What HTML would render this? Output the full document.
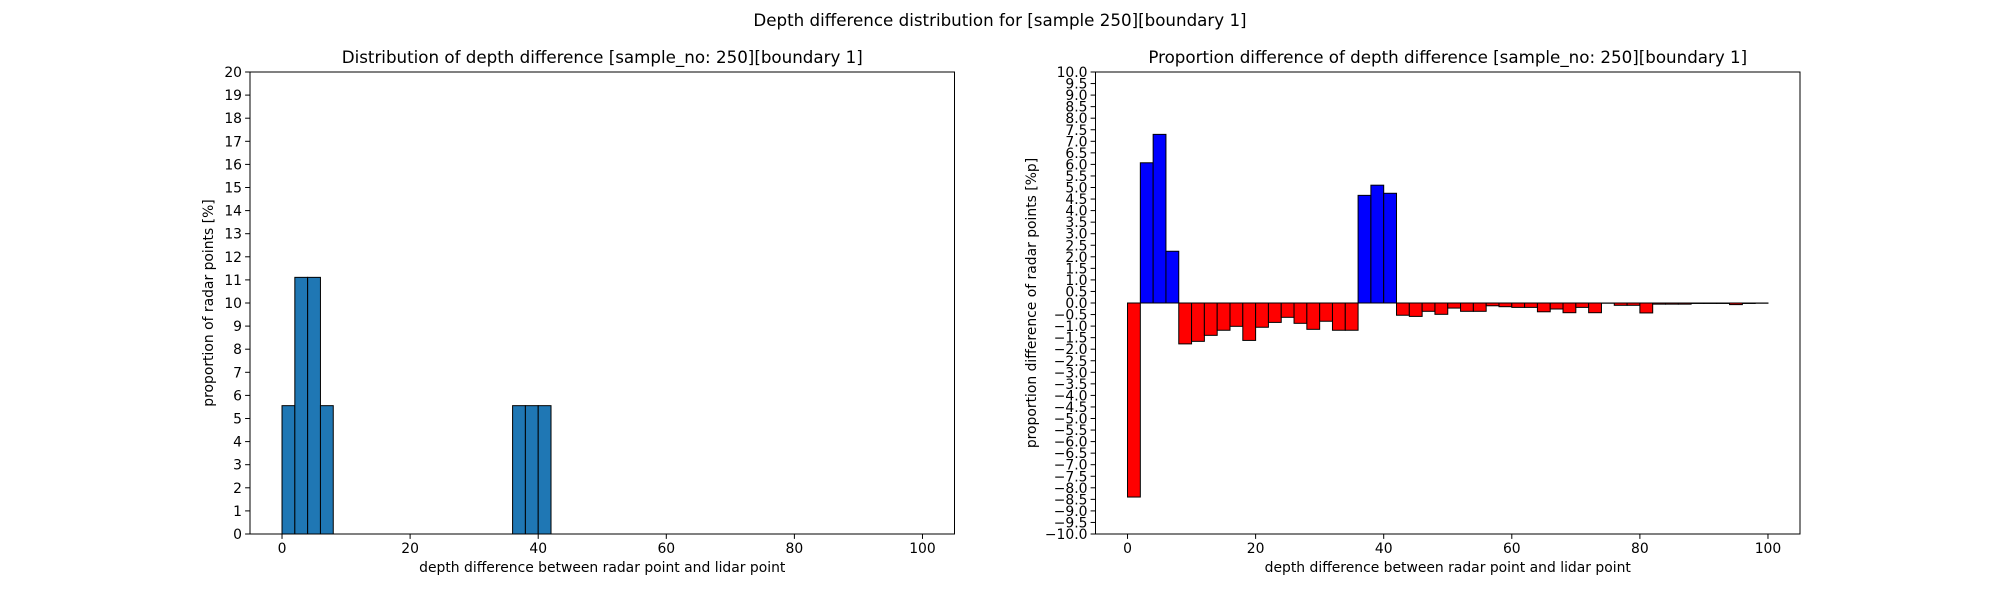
<!DOCTYPE html>
<html><head><meta charset="utf-8"><style>
body{margin:0;background:#fff}
svg{display:block;font-family:"DejaVu Sans","Liberation Sans",sans-serif}
</style></head><body>
<svg id="fig" width="2000" height="600">
<text x="1000" y="26" font-size="16.7" text-anchor="middle">Depth difference distribution for [sample 250][boundary 1]</text>
</svg>
<script>
const leftBins = [0,2,4,6,8,10,12,14,16,18,20,22,24,26,28,30,32,34,36,38,40,42,44,46,48,50,52,54,56,58,60,62,64,66,68,70,72,74,76,78,80,82,84,86,88,90,92,94,96,98];
const leftValues = [5.556,11.11,11.11,5.556,0,0,0,0,0,0,0,0,0,0,0,0,0,0,5.556,5.556,5.556,0,0,0,0,0,0,0,0,0,0,0,0,0,0,0,0,0,0,0,0,0,0,0,0,0,0,0,0,0];
const diffValues = [-8.40,6.07,7.30,2.24,-1.77,-1.66,-1.40,-1.18,-1.01,-1.62,-1.05,-0.84,-0.62,-0.88,-1.14,-0.79,-1.18,-1.18,4.66,5.10,4.75,-0.53,-0.58,-0.36,-0.49,-0.22,-0.36,-0.36,-0.12,-0.16,-0.19,-0.19,-0.38,-0.26,-0.42,-0.19,-0.42,-0.01,-0.10,-0.10,-0.43,-0.05,-0.05,-0.05,-0.02,-0.02,-0.02,-0.07,-0.02,-0.01];
const xTicks = [0,20,40,60,80,100];
const leftYTicks = [0,1,2,3,4,5,6,7,8,9,10,11,12,13,14,15,16,17,18,19,20];
const rightYTicks = [-10,-9.5,-9,-8.5,-8,-7.5,-7,-6.5,-6,-5.5,-5,-4.5,-4,-3.5,-3,-2.5,-2,-1.5,-1,-0.5,0,0.5,1,1.5,2,2.5,3,3.5,4,4.5,5,5.5,6,6.5,7,7.5,8,8.5,9,9.5,10];
const binWidth = 2;

const NS='http://www.w3.org/2000/svg';
const svg=document.getElementById('fig');
function el(tag,attrs,parent){const e=document.createElementNS(NS,tag);for(const k in attrs)e.setAttribute(k,attrs[k]);(parent||svg).appendChild(e);return e;}

function drawAxes(cfg){
  const {x0,x1,y0,y1,ymin,ymax,name}=cfg;
  const g=el('g',{});
  
  
  const xs=v=>x0+(v+5)/110*(x1-x0);
  const ys=v=>y1-(v-ymin)/(ymax-ymin)*(y1-y0);
  // bars
  for(let i=0;i<cfg.values.length;i++){
    const v=cfg.values[i];
    if(v===0 && !cfg.drawZero) continue;
    const a=xs(leftBins[i]), b=xs(leftBins[i]+binWidth);
    const top=ys(Math.max(v,0)), bot=ys(Math.min(v,0));
    const r=el('rect',{x:a,y:top,width:b-a,height:Math.max(bot-top,0.01),fill:cfg.color(v),stroke:'#000','stroke-width':1},g);
    
    
  }
  // spines
  const f=el('rect',{x:x0,y:y0,width:x1-x0,height:y1-y0,fill:'none',stroke:'#000','stroke-width':1},g);
  
  
  // x ticks
  xTicks.forEach(t=>{
    const x=xs(t);
    el('line',{x1:x,x2:x,y1:y1,y2:y1+4.9,stroke:'#000','stroke-width':1},g);
    const tx=el('text',{x:x,y:y1+19,'font-size':13.9,'text-anchor':'middle'},g);
    tx.textContent=t;
    
    
  });
  cfg.yTicks.forEach(t=>{
    const y=ys(t);
    el('line',{x1:x0-4.9,x2:x0,y1:y,y2:y,stroke:'#000','stroke-width':1},g);
    const tx=el('text',{x:x0-8,y:y+5,'font-size':13.9,'text-anchor':'end'},g);
    tx.textContent=cfg.fmt(t);
    
    
  });
  const ti=el('text',{x:(x0+x1)/2,y:y0-9,'font-size':16.7,'text-anchor':'middle'},g);
  ti.textContent=cfg.title;
  
  
  const xl=el('text',{x:(x0+x1)/2,y:y1+38,'font-size':13.9,'text-anchor':'middle'},g);
  xl.textContent='depth difference between radar point and lidar point';
  
  
  const yx=cfg.ylabelX, yc=(y0+y1)/2;
  const yl=el('text',{x:yx,y:yc,'font-size':13.9,'text-anchor':'middle',transform:`rotate(-90 ${yx} ${yc})`},g);
  yl.textContent=cfg.ylabel;
  
  
}
drawAxes({name:'left-chart',x0:250,x1:954.5,y0:72,y1:534,ymin:0,ymax:20,values:leftValues,yTicks:leftYTicks,
  color:()=>'#1f77b4',fmt:t=>String(t),title:'Distribution of depth difference [sample_no: 250][boundary 1]',
  ylabel:'proportion of radar points [%]',ylabelX:213});
drawAxes({name:'right-chart',x0:1095.5,x1:1800,y0:72,y1:534,ymin:-10,ymax:10,values:diffValues,yTicks:rightYTicks,drawZero:true,
  color:v=>v>=0?'#0000ff':'#ff0000',fmt:t=>(t<0?'\u2212':'')+Math.abs(t).toFixed(1),title:'Proportion difference of depth difference [sample_no: 250][boundary 1]',
  ylabel:'proportion difference of radar points [%p]',ylabelX:1036});
</script>
</body></html>
